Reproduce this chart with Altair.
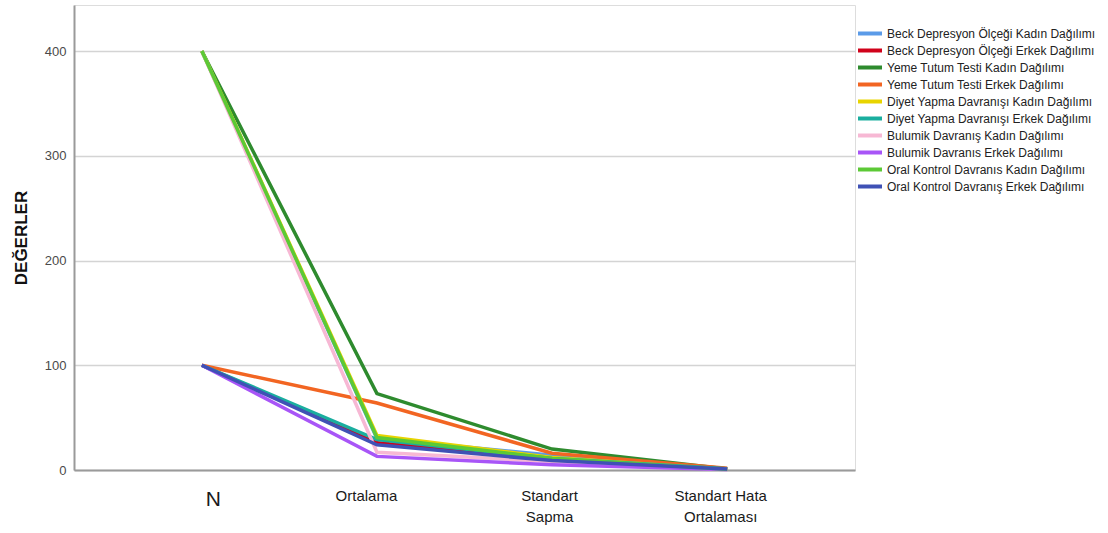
import altair as alt
import pandas as pd

# Statistic names shown along the x axis
stats = ["N", "Ortalama", "Standart Sapma", "Standart Hata Ortalaması"]

# Series names, in legend / drawing order
series = [
    "Beck Depresyon Ölçeği Kadın Dağılımı",
    "Beck Depresyon Ölçeği Erkek Dağılımı",
    "Yeme Tutum Testi Kadın Dağılımı",
    "Yeme Tutum Testi Erkek Dağılımı",
    "Diyet Yapma Davranışı Kadın Dağılımı",
    "Diyet Yapma Davranışı Erkek Dağılımı",
    "Bulumik Davranış Kadın Dağılımı",
    "Bulumik Davranıs Erkek Dağılımı",
    "Oral Kontrol Davranıs Kadın Dağılımı",
    "Oral Kontrol Davranış Erkek Dağılımı",
]

colors = [
    "#5b9be8", "#d0021b", "#2e8b2e", "#f26522", "#e8d400",
    "#1aae9f", "#f7b8d4", "#a855f7", "#5cc936", "#3f51b5",
]

# Values per series: N, Ortalama, Standart Sapma, Standart Hata Ortalaması
beck_kadin = [400, 30, 14, 0.7]
beck_erkek = [100, 26, 11, 1.1]
yeme_kadin = [400, 73, 20, 1.0]
yeme_erkek = [100, 64, 16, 1.6]
diyet_kadin = [400, 33, 12, 0.6]
diyet_erkek = [100, 29, 11, 1.1]
bulumik_kadin = [400, 17, 8, 0.4]
bulumik_erkek = [100, 13, 5, 0.5]
oral_kadin = [400, 31, 11, 0.6]
oral_erkek = [100, 24, 9, 0.9]

values = [
    beck_kadin, beck_erkek, yeme_kadin, yeme_erkek, diyet_kadin,
    diyet_erkek, bulumik_kadin, bulumik_erkek, oral_kadin, oral_erkek,
]

rows = []
for i, (name, vals) in enumerate(zip(series, values)):
    for j, (s, v) in enumerate(zip(stats, vals)):
        rows.append({"seri": name, "istatistik": s, "deger": v, "sira": i, "pos": j})
df = pd.DataFrame(rows)

label_expr = (
    "datum.value == 'Standart Sapma' ? ['Standart', 'Sapma'] : "
    "datum.value == 'Standart Hata Ortalaması' ? ['Standart Hata', 'Ortalaması'] : datum.label"
)

# Small horizontal nudges for the category labels
label_offset = {
    "condition": [
        {"test": "datum.value == 'N'", "value": 11},
        {"test": "datum.value == 'Ortalama'", "value": -11},
        {"test": "datum.value == 'Standart Sapma'", "value": -3},
    ],
    "value": -7,
}

chart = (
    alt.Chart(df)
    .mark_line(strokeWidth=3.5, strokeJoin="miter", strokeCap="butt")
    .encode(
        x=alt.X(
            "istatistik:N",
            sort=stats,
            scale=alt.Scale(type="point", padding=0.73),
            axis=alt.Axis(
                title=None,
                labelAngle=0,
                labelExpr=label_expr,
                labelFont="Liberation Sans",
                labelFontSize={"condition": {"test": "datum.value == 'N'", "value": 21}, "value": 15},
                labelOffset=label_offset,
                labelColor="#1a1a1a",
                labelPadding=18,
                labelLineHeight=21,
                labelBaseline="top",
                ticks=False,
                grid=False,
                domainColor="#9a9a9a",
                domainWidth=2,
            ),
        ),
        y=alt.Y(
            "deger:Q",
            scale=alt.Scale(domain=[0, 444], nice=False, zero=True),
            axis=alt.Axis(
                title="DEĞERLER",
                titleFont="Liberation Sans",
                titleFontSize=17,
                titleFontWeight="bold",
                titleColor="#111111",
                titlePadding=14,
                values=[0, 100, 200, 300, 400],
                labelFont="Liberation Sans",
                labelFontSize=13,
                labelColor="#4a4a4a",
                labelPadding=8,
                ticks=False,
                gridColor="#d4d4d4",
                gridWidth=1.5,
                domainColor="#9a9a9a",
                domainWidth=2,
            ),
        ),
        color=alt.Color(
            "seri:N",
            sort=series,
            scale=alt.Scale(domain=series, range=colors),
            legend=alt.Legend(
                title=None,
                orient="none",
                legendX=782,
                legendY=20,
                symbolType="stroke",
                symbolSize=576,
                symbolStrokeWidth=4,
                labelFont="Liberation Sans",
                labelFontSize=12,
                labelColor="#222222",
                labelOffset=3,
                clipHeight=17,
                rowPadding=0,
                labelLimit=300,
            ),
        ),
        order=alt.Order("pos:Q"),
        detail="sira:N",
    )
    .properties(
        width=781,
        height=465,
        autosize=alt.AutoSizeParams(type="none"),
        padding={"left": 74, "top": 5, "right": 253, "bottom": 63},
    )
    .configure_view(stroke=None)
    .configure(background="white")
)

chart.save("out.html", embed_options={"renderer": "svg", "actions": False})
